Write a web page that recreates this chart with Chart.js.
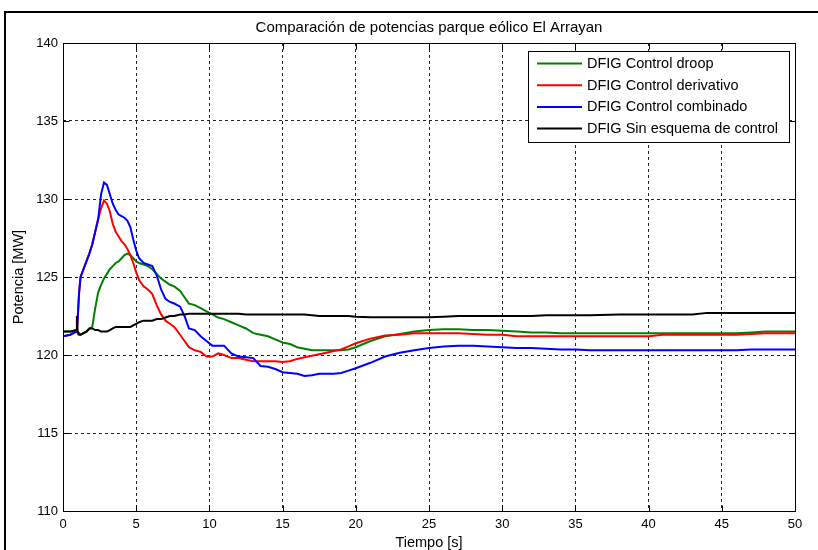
<!DOCTYPE html>
<html>
<head>
<meta charset="utf-8">
<script src="https://cdn.jsdelivr.net/npm/chart.js@4.4.1/dist/chart.umd.min.js"></script>
<style>
html,body{margin:0;padding:0;background:#fff;}
#wrap{width:818px;height:550px;position:relative;}
</style>
</head>
<body>
<div id="wrap"><canvas id="c" width="818" height="550"></canvas></div>
<script>
// ---- data ----
const tiempo = [0,0.5,0.9,0.95,1.0, 1.1,1.2,1.4,1.6,1.8, 2.0,2.2,2.4,2.6,2.8, 3.0,3.2,3.4,3.6,3.8,
  4.0,4.2,4.4,4.6,4.8, 5.0,5.2,5.5,5.8,6.1, 6.4,6.7,7.0,7.3,7.6, 8.0,8.3,8.6,9.0,9.4,
  9.8,10.2,10.6,11.0,11.5, 12.0,12.5,13.0,13.5,14.0, 14.5,15.0,15.5,16.0,16.5, 17.0,17.5,18.0,18.5,19.0,
  19.5,20,21,22,23, 24,25,26,27,28, 29,30,31,32,33, 34,35,36,38,40, 41,43,44,46,47, 48,50];

const droop = [121.5,121.5,121.6,121.5,121.5, 121.4,121.3,121.4,121.5,121.7, 121.8,123.0,124.0,124.5,124.9,
  125.2,125.5,125.7,125.9,126.0, 126.2,126.4,126.5,126.4,126.2, 126.0,125.9,125.8,125.7,125.5,
  125.2,124.9,124.7,124.5,124.4, 124.1,123.7,123.3,123.2,123.0, 122.8,122.6,122.4,122.3,122.1,
  121.9,121.7,121.4,121.3,121.2, 121.0,120.8,120.7,120.5,120.4, 120.3,120.3,120.3,120.3,120.3,
  120.35,120.5,120.9,121.2,121.35, 121.5,121.6,121.65,121.65,121.6, 121.6,121.55,121.5,121.45,121.45,
  121.4,121.4,121.4,121.4,121.4, 121.4,121.4,121.4,121.4,121.45, 121.5,121.5];

const derivativo = [121.2,121.3,121.5,121.6,122.3, 124.0,125.0,125.5,126.0,126.5, 127.1,127.9,128.7,129.4,129.9,
  129.7,129.2,128.4,127.9,127.6, 127.3,127.1,126.8,126.4,125.9, 125.3,124.8,124.4,124.2,123.9,
  123.2,122.6,122.2,122.0,121.8, 121.3,120.9,120.5,120.3,120.2, 119.9,119.9,120.1,120.0,119.8,
  119.8,119.7,119.6,119.6,119.6, 119.6,119.55,119.6,119.75,119.85, 119.95,120.05,120.15,120.25,120.35,
  120.55,120.75,121.05,121.25,121.3, 121.4,121.4,121.4,121.4,121.35, 121.3,121.3,121.2,121.2,121.2,
  121.2,121.2,121.2,121.2,121.2, 121.3,121.3,121.3,121.3,121.35, 121.4,121.4];

const combinado = [121.2,121.3,121.5,121.6,122.3, 124.0,125.0,125.5,126.0,126.5, 127.1,127.9,128.7,130.3,131.05,
  130.9,130.3,129.7,129.3,129.0, 128.9,128.8,128.6,128.2,127.4, 126.7,126.2,125.9,125.8,125.7,
  125.1,124.2,123.6,123.4,123.3, 123.1,122.5,121.7,121.6,121.2, 120.9,120.6,120.6,120.6,120.1,
  119.9,119.85,119.8,119.3,119.25, 119.1,118.9,118.85,118.8,118.65, 118.7,118.8,118.8,118.8,118.85,
  119.0,119.15,119.5,119.9,120.15, 120.3,120.45,120.55,120.6,120.6, 120.55,120.5,120.45,120.45,120.4,
  120.35,120.35,120.3,120.3,120.3, 120.3,120.3,120.3,120.3,120.35, 120.35,120.35];

const sinControl = [121.5,121.5,121.6,122.5,121.5, 121.3,121.3,121.4,121.5,121.7, 121.7,121.6,121.6,121.5,121.5,
  121.5,121.6,121.7,121.8,121.8, 121.8,121.8,121.8,121.8,121.9, 122.0,122.1,122.2,122.2,122.2,
  122.3,122.3,122.4,122.5,122.5, 122.6,122.6,122.65,122.65,122.65, 122.65,122.65,122.65,122.65,122.65,
  122.65,122.6,122.6,122.6,122.6, 122.6,122.6,122.6,122.6,122.6, 122.55,122.5,122.5,122.5,122.5,
  122.5,122.45,122.42,122.42,122.42, 122.42,122.42,122.45,122.5,122.5, 122.5,122.5,122.5,122.5,122.55,
  122.55,122.55,122.55,122.6,122.6, 122.6,122.6,122.7,122.7,122.7, 122.7,122.7];

const etiquetas = ['DFIG Control droop','DFIG Control derivativo','DFIG Control combinado','DFIG Sin esquema de control'];
const colores = ['#008000','#ff0000','#0000ff','#000000'];
const xTicks = [0,5,10,15,20,25,30,35,40,45,50];
const yTicks = [110,115,120,125,130,135,140];
const titulo = 'Comparación de potencias parque eólico El Arrayan';
const xLabel = 'Tiempo [s]';
const yLabel = 'Potencia [MW]';

// ---- chart ----
const FF = '"Liberation Sans", Arial, Helvetica, sans-serif';
const series = [droop, derivativo, combinado, sinControl];
const datasets = series.map((s, i) => ({
  label: etiquetas[i],
  data: tiempo.map((t, j) => ({x: t, y: s[j]})),
  borderColor: colores[i],
  backgroundColor: colores[i],
  borderWidth: 2,
  pointRadius: 0,
  tension: 0,
  fill: false,
  order: 4 - i
}));

const matlabPlugin = {
  id: 'matlab',
  beforeDraw(chart) {
    const ctx = chart.ctx;
    ctx.save();
    ctx.fillStyle = '#fff';
    ctx.fillRect(0, 0, chart.width, chart.height);
    ctx.fillStyle = '#000';
    ctx.fillRect(4, 11, chart.width - 4, 2);
    ctx.fillRect(4, 11, 2, chart.height - 11);
    ctx.restore();
  },
  afterDraw(chart) {
    const ctx = chart.ctx;
    const a = chart.chartArea;
    const xs = chart.scales.x, ys = chart.scales.y;
    const L = Math.round(a.left) + 0.5, R = Math.round(a.right) + 0.5;
    const T = Math.round(a.top) + 0.5, B = Math.round(a.bottom) + 0.5;
    ctx.save();
    ctx.setLineDash([]);
    ctx.strokeStyle = '#000';
    ctx.lineWidth = 1;
    ctx.strokeRect(L, T, R - L, B - T);
    const tl = 6;
    ctx.beginPath();
    xTicks.forEach(v => {
      const p = Math.round(xs.getPixelForValue(v)) + 0.5;
      ctx.moveTo(p, B); ctx.lineTo(p, B - tl);
      ctx.moveTo(p, T); ctx.lineTo(p, T + tl);
    });
    yTicks.forEach(v => {
      const p = Math.round(ys.getPixelForValue(v)) + 0.5;
      ctx.moveTo(L, p); ctx.lineTo(L + tl, p);
      ctx.moveTo(R, p); ctx.lineTo(R - tl, p);
    });
    ctx.stroke();

    // legend box
    const bx = 528.5, by = 51.5, bw = 261, bh = 91;
    ctx.fillStyle = '#fff';
    ctx.fillRect(bx, by, bw, bh);
    ctx.strokeStyle = '#000';
    ctx.strokeRect(bx, by, bw, bh);
    ctx.font = '14.5px ' + FF;
    ctx.textBaseline = 'middle';
    ctx.textAlign = 'left';
    chart.data.datasets.forEach((d, i) => {
      const yy = 63.5 + i * 21.7;
      ctx.strokeStyle = d.borderColor;
      ctx.lineWidth = 2;
      ctx.beginPath();
      ctx.moveTo(537, yy); ctx.lineTo(582, yy);
      ctx.stroke();
      ctx.fillStyle = '#000';
      ctx.fillText(d.label, 587, yy + 0.5);
    });
    ctx.restore();
  }
};

new Chart(document.getElementById('c'), {
  type: 'line',
  data: { datasets },
  options: {
    responsive: false,
    animation: false,
    devicePixelRatio: 1,
    layout: { padding: { left: 0, right: 23, top: 0, bottom: 0 } },
    plugins: {
      legend: { display: false },
      tooltip: { enabled: false },
      title: {
        display: true,
        text: titulo,
        fullSize: false,
        color: '#000',
        font: { family: FF, size: 15, weight: 'normal', lineHeight: 1.2 },
        padding: { top: 19, bottom: 6 }
      }
    },
    scales: {
      x: {
        type: 'linear',
        min: 0, max: 50,
        afterBuildTicks: s => { s.ticks = xTicks.map(v => ({ value: v })); },
        afterFit: s => { s.height = 39; },
        ticks: { color: '#000', font: { family: FF, size: 13 }, padding: 6, maxRotation: 0, autoSkip: false },
        grid: { color: '#222', lineWidth: 1, drawTicks: false },
        border: { display: false, dash: [3, 3] },
        title: { display: true, text: xLabel, color: '#000', font: { family: FF, size: 14.5, lineHeight: 1.2 }, padding: { top: 0, bottom: -2 } }
      },
      y: {
        type: 'linear',
        min: 110, max: 140,
        afterBuildTicks: s => { s.ticks = yTicks.map(v => ({ value: v })); },
        afterFit: s => { s.width = 63; },
        ticks: { color: '#000', font: { family: FF, size: 13 }, padding: 5, autoSkip: false },
        grid: { color: '#222', lineWidth: 1, drawTicks: false },
        border: { display: false, dash: [3, 3] },
        title: { display: true, text: yLabel, color: '#000', font: { family: FF, size: 14.5, lineHeight: 1.2 }, padding: { top: 10, bottom: 0 } }
      }
    }
  },
  plugins: [matlabPlugin]
});
</script>
</body>
</html>
